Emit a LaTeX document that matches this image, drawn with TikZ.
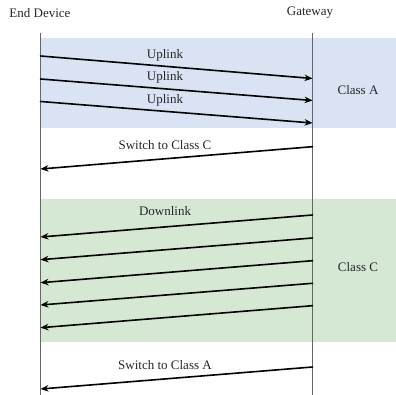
\documentclass[tikz,border=0pt]{standalone}
\usepackage{fontspec}
\setmainfont{Liberation Serif}
\usetikzlibrary{arrows.meta}
\definecolor{classablue}{HTML}{DAE3F3}
\definecolor{classcgreen}{HTML}{D5E8D4}
\definecolor{lifegray}{HTML}{666666}

\begin{document}
\begin{tikzpicture}[x=1pt,y=-1pt,line cap=round,line join=round,>={Stealth[length=8pt,width=6.5pt]},
    every node/.style={font=\fontsize{13}{15}\selectfont,text=black!85},
    lifeline/.style={line width=1.6pt,draw=lifegray,line cap=butt},
    msg/.style={line width=1.6pt,->}]
      \useasboundingbox (0,0) rectangle (396,395);
      % class regions
      \fill [classablue] (40.5,38) rectangle (396,128);
      \fill [classcgreen] (40.5,199) rectangle (396,341.7);
      % lifelines
      \node (dev) at (40,13) {End Device};
      \node (gw) at (310,13) {Gateway};
      \coordinate (devtop) at (40.5,33);
      \coordinate (devbot) at (40.5,395);
      \coordinate (gwtop) at (312.5,33);
      \coordinate (gwbot) at (312.5,395);
      \draw [lifeline] (devtop) -- (devbot);
      \draw [lifeline] (gwtop) -- (gwbot);
      % uplinks
      \coordinate (up1a) at (40.5,56);    \coordinate (up1b) at (312.5,78.5);
      \coordinate (up2a) at (40.5,79);    \coordinate (up2b) at (312.5,100.5);
      \coordinate (up3a) at (40.5,101.5); \coordinate (up3b) at (312.5,123);
      \draw [msg] (up1a) -- (up1b);
      \draw [msg] (up2a) -- (up2b);
      \draw [msg] (up3a) -- (up3b);
      \node (uplab1) at (165,55) {Uplink};
      \node (uplab2) at (165,77.5) {Uplink};
      \node (uplab3) at (165,100) {Uplink};
      \node (classa) at (358,90) {Class A};
      % switch to C
      \coordinate (swca) at (312.5,146.7); \coordinate (swcb) at (40.5,169);
      \draw [msg] (swca) -- (swcb);
      \node (swclab) at (165,145) {Switch to Class C};
      % downlinks
      \coordinate (dn1a) at (312.5,215);   \coordinate (dn1b) at (40.5,237);
      \coordinate (dn2a) at (312.5,238);   \coordinate (dn2b) at (40.5,259.7);
      \coordinate (dn3a) at (312.5,260.7); \coordinate (dn3b) at (40.5,282.7);
      \coordinate (dn4a) at (312.5,283.3); \coordinate (dn4b) at (40.5,305);
      \coordinate (dn5a) at (312.5,305.7); \coordinate (dn5b) at (40.5,327.7);
      \draw [msg] (dn1a) -- (dn1b);
      \draw [msg] (dn2a) -- (dn2b);
      \draw [msg] (dn3a) -- (dn3b);
      \draw [msg] (dn4a) -- (dn4b);
      \draw [msg] (dn5a) -- (dn5b);
      \node (dnlab) at (165,211) {Downlink};
      \node (classc) at (358,267) {Class C};
      % switch to A
      \coordinate (swaa) at (312.5,367); \coordinate (swab) at (40.5,389);
      \draw [msg] (swaa) -- (swab);
      \node (swalab) at (165,365.5) {Switch to Class A};
    \end{tikzpicture}
\end{document}
